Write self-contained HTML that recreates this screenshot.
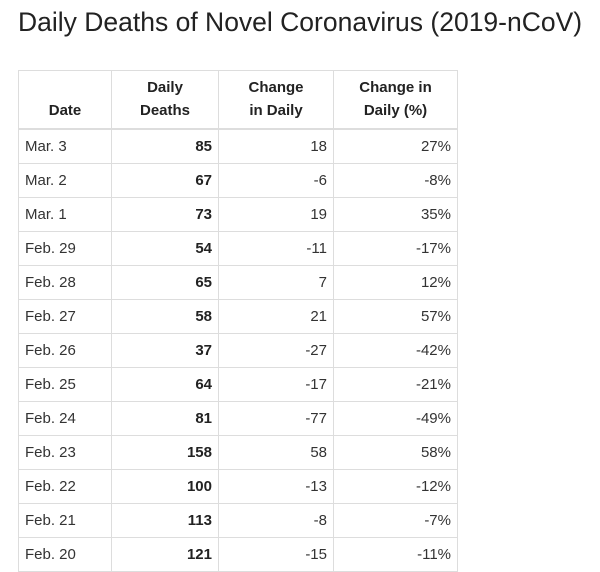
<!DOCTYPE html>
<html><head><style>
body{margin:0;background:#fff;font-family:"Liberation Sans",Arial,sans-serif;color:#333;width:600px;height:541px;overflow:hidden}
h1{position:absolute;left:18px;top:7px;margin:0;font-weight:normal;font-size:26.5px;color:#222;white-space:nowrap}
table{position:absolute;left:18px;top:70px;border-collapse:collapse;font-size:15px;color:#333}
td,th{border:1px solid #ddd;padding:0 6px;height:33px;box-sizing:border-box}
th{font-weight:bold;text-align:center;vertical-align:bottom;height:58px;padding-bottom:6px;line-height:23px;border-bottom:2px solid #ddd;color:#222}
td{text-align:right}
td:first-child{text-align:left}
td:nth-child(2){font-weight:bold;color:#222}
</style></head><body>
<h1>Daily Deaths of Novel Coronavirus (2019-nCoV)</h1>
<table>
<colgroup><col style="width:93px"><col style="width:107px"><col style="width:115px"><col style="width:124px"></colgroup>
<tr><th>Date</th><th>Daily<br>Deaths</th><th>Change<br>in Daily</th><th>Change in<br>Daily (%)</th></tr>
<tr style="height:35px"><td>Mar. 3</td><td>85</td><td>18</td><td>27%</td></tr>
<tr style="height:34px"><td>Mar. 2</td><td>67</td><td>-6</td><td>-8%</td></tr>
<tr style="height:34px"><td>Mar. 1</td><td>73</td><td>19</td><td>35%</td></tr>
<tr style="height:34px"><td>Feb. 29</td><td>54</td><td>-11</td><td>-17%</td></tr>
<tr style="height:34px"><td>Feb. 28</td><td>65</td><td>7</td><td>12%</td></tr>
<tr style="height:34px"><td>Feb. 27</td><td>58</td><td>21</td><td>57%</td></tr>
<tr style="height:34px"><td>Feb. 26</td><td>37</td><td>-27</td><td>-42%</td></tr>
<tr style="height:34px"><td>Feb. 25</td><td>64</td><td>-17</td><td>-21%</td></tr>
<tr style="height:34px"><td>Feb. 24</td><td>81</td><td>-77</td><td>-49%</td></tr>
<tr style="height:34px"><td>Feb. 23</td><td>158</td><td>58</td><td>58%</td></tr>
<tr style="height:34px"><td>Feb. 22</td><td>100</td><td>-13</td><td>-12%</td></tr>
<tr style="height:34px"><td>Feb. 21</td><td>113</td><td>-8</td><td>-7%</td></tr>
<tr style="height:34px"><td>Feb. 20</td><td>121</td><td>-15</td><td>-11%</td></tr>
</table>
</body></html>
